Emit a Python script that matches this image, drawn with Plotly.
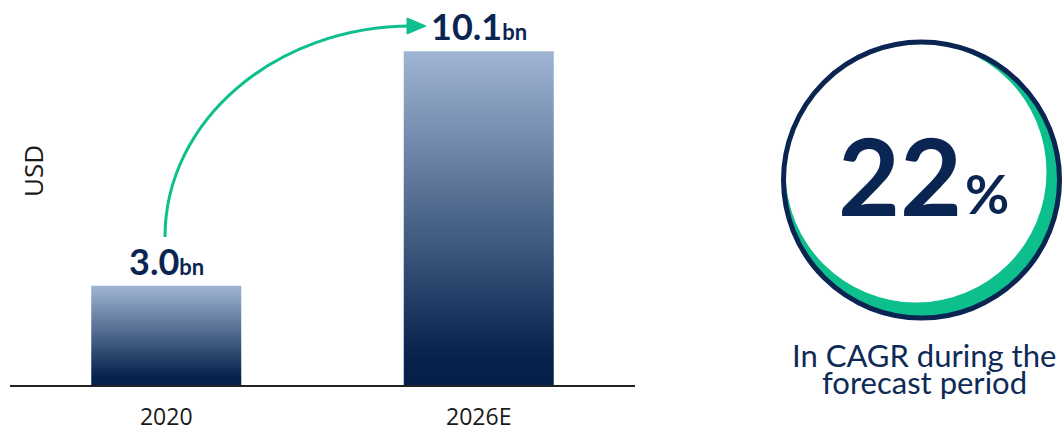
import plotly.graph_objects as go

# ---- data ----
categories = ["2020", "2026E"]
values = [3.0, 10.1]
value_labels = ["3.0", "10.1"]
unit_label = "bn"
cagr_value = "22"
cagr_unit = "%"
cagr_text = ["In CAGR during the", "forecast period"]
y_title = "USD"

W, H = 1063, 433
NAVY = "#0b2552"
GREEN = "#0cbf8c"


def px(x):
    return x / W


def py(y):
    return 1 - y / H


fig = go.Figure()

bar_w = 0.48
for i, (cat, v) in enumerate(zip(categories, values)):
    fig.add_trace(go.Scatter(
        x=[i - bar_w / 2, i - bar_w / 2, i + bar_w / 2, i + bar_w / 2, i - bar_w / 2],
        y=[0, v, v, 0, 0],
        mode="lines", line=dict(width=0), fill="toself",
        fillgradient=dict(type="vertical",
                          colorscale=[[0, "#02204a"], [0.08, "#05224c"], [1, "#a0b5d4"]]),
        hoverinfo="skip", showlegend=False,
    ))
    fig.add_annotation(
        x=i, y=v, xref="x", yref="y", yanchor="bottom", showarrow=False, yshift=1,
        text=f"<b>{value_labels[i]}<span style='font-size:22px'>{unit_label}</span></b>",
        font=dict(family="Lato", size=36, color=NAVY),
    )

# curved green arrow (quarter ellipse approximated by a cubic bezier)
p0 = (165, 237)
p3 = (412, 26)
k = 0.5523
p1 = (p0[0], p0[1] - k * (p0[1] - p3[1]))
p2 = (p3[0] - k * (p3[0] - p0[0]), p3[1])
path = (f"M {px(p0[0])},{py(p0[1])} C {px(p1[0])},{py(p1[1])} "
        f"{px(p2[0])},{py(p2[1])} {px(p3[0])},{py(p3[1])}")
fig.add_shape(type="path", xref="paper", yref="paper", path=path,
              line=dict(color=GREEN, width=3))
head = (f"M {px(407)},{py(18)} L {px(426)},{py(26)} L {px(407)},{py(34)} Z")
fig.add_shape(type="path", xref="paper", yref="paper", path=head,
              fillcolor=GREEN, line=dict(color=GREEN, width=1))

# circle badge
cx, cy, r = 921.5, 180, 138
fig.add_shape(type="circle", xref="paper", yref="paper",
              x0=px(cx - r), x1=px(cx + r), y0=py(cy + r), y1=py(cy - r),
              fillcolor=GREEN, line=dict(width=0))
wx, wy, wr = 916, 172, 130.5
fig.add_shape(type="circle", xref="paper", yref="paper",
              x0=px(wx - wr), x1=px(wx + wr), y0=py(wy + wr), y1=py(wy - wr),
              fillcolor="white", line=dict(width=0))
fig.add_shape(type="circle", xref="paper", yref="paper",
              x0=px(cx - r), x1=px(cx + r), y0=py(cy + r), y1=py(cy - r),
              fillcolor="rgba(0,0,0,0)", line=dict(color=NAVY, width=5))

fig.add_annotation(x=px(900), y=py(174), xref="paper", yref="paper",
                   xanchor="center", yanchor="middle", showarrow=False,
                   text=f"<b>{cagr_value}</b>",
                   font=dict(family="Lato", size=107, color=NAVY))
fig.add_annotation(x=px(987), y=py(193), xref="paper", yref="paper",
                   xanchor="center", yanchor="middle", showarrow=False,
                   text=f"<b>{cagr_unit}</b>",
                   font=dict(family="Lato", size=54, color=NAVY))
for j, line in enumerate(cagr_text):
    fig.add_annotation(x=px(924), y=py(355 + 27 * j), xref="paper", yref="paper",
                       xanchor="center", yanchor="middle", showarrow=False,
                       text=line, font=dict(family="Lato", size=31, color="#0e2a56"))

fig.add_annotation(x=px(33), y=py(171), xref="paper", yref="paper",
                   xanchor="center", yanchor="middle", showarrow=False,
                   text=y_title, textangle=-90,
                   font=dict(family="Open Sans", size=26, color="#1a1a1a"))

fig.update_layout(
    width=W, height=H, margin=dict(l=0, r=0, t=0, b=0),
    paper_bgcolor="white", plot_bgcolor="white", showlegend=False,
    xaxis=dict(domain=[px(10), px(635)], range=[-0.5, 1.5],
               tickvals=list(range(len(categories))), ticktext=categories,
               showgrid=False, zeroline=False, showline=True,
               linecolor="#222222", linewidth=2, ticks="",
               ticklabelstandoff=10, automargin=False,
               tickfont=dict(family="Open Sans", size=23, color="#1a1a1a"),
               fixedrange=True),
    yaxis=dict(domain=[48 / H, 428 / H], range=[0, 11.5], visible=False,
               automargin=False, fixedrange=True),
)

fig.write_html("out.html")
